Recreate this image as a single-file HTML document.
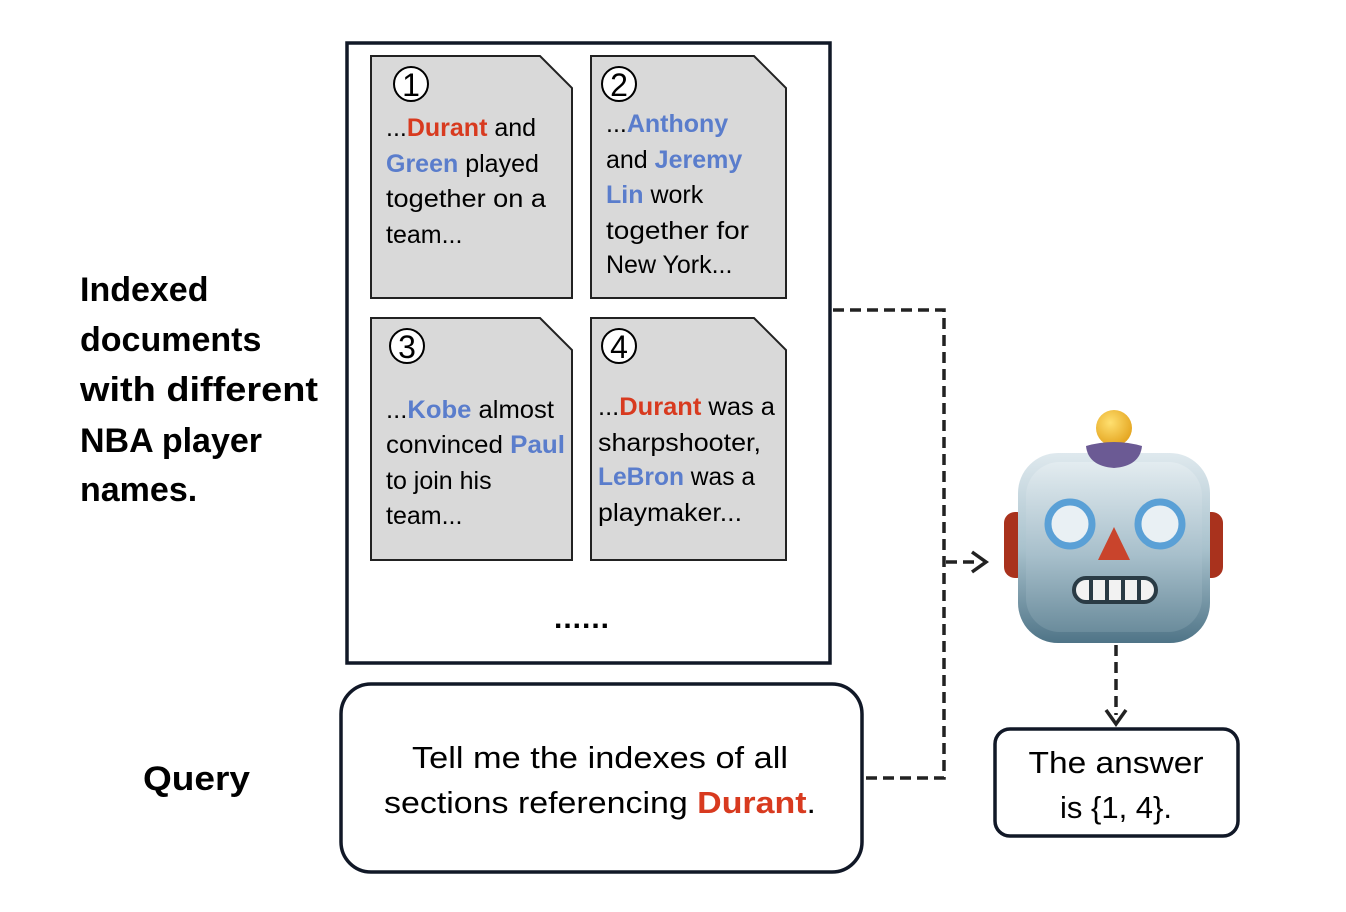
<!DOCTYPE html>
<html><head><meta charset="utf-8"><style>
html,body{margin:0;padding:0;background:#fff;}
svg{display:block;}
text{font-family:"Liberation Sans",sans-serif;}
.r{fill:#d83a1f;font-weight:bold;}
.b{fill:#5a7dcc;font-weight:bold;}
</style></head><body>
<svg width="1346" height="912" viewBox="0 0 1346 912" xmlns="http://www.w3.org/2000/svg">
<defs>
<linearGradient id="face" x1="0" y1="0" x2="0" y2="1">
<stop offset="0" stop-color="#dfe9ee"/><stop offset="0.5" stop-color="#a9c2cd"/><stop offset="1" stop-color="#4f7487"/>
</linearGradient>
<linearGradient id="inner" x1="0" y1="0" x2="0" y2="1">
<stop offset="0" stop-color="#e3ecf0"/><stop offset="0.55" stop-color="#a7bfcb"/><stop offset="1" stop-color="#6b8c9c"/>
</linearGradient>
<radialGradient id="ball" cx="0.4" cy="0.35" r="0.7"><stop offset="0" stop-color="#ffe070"/><stop offset="1" stop-color="#e3a21c"/></radialGradient>
</defs>

<g font-size="34" font-weight="bold" fill="#000">
<text x="80" y="301">Indexed</text>
<text x="80" y="351">documents</text>
<text x="80" y="401" textLength="238" lengthAdjust="spacingAndGlyphs">with different</text>
<text x="80" y="452">NBA player</text>
<text x="80" y="501">names.</text>
<text x="143" y="790" textLength="107" lengthAdjust="spacingAndGlyphs">Query</text>
</g>

<rect x="347" y="43" width="483" height="620" fill="#fff" stroke="#111827" stroke-width="3.5"/>

<g fill="#d9d9d9" stroke="#222" stroke-width="2">
<path d="M371 56 H540 L572 88 V298 H371 Z"/>
<path d="M591 56 H754 L786 88 V298 H591 Z"/>
<path d="M371 318 H540 L572 350 V560 H371 Z"/>
<path d="M591 318 H754 L786 350 V560 H591 Z"/>
</g>
<g fill="#fff" stroke="#000" stroke-width="2">
<circle cx="411" cy="84" r="17"/><circle cx="619" cy="84" r="17"/>
<circle cx="407" cy="346" r="17"/><circle cx="619" cy="346" r="17"/>
</g>
<g font-size="32" text-anchor="middle" fill="#000">
<text x="411" y="96">1</text><text x="619" y="96">2</text>
<text x="407" y="358">3</text><text x="619" y="358">4</text>
</g>

<g font-size="25" fill="#000">
<text x="386" y="136">...<tspan class="r">Durant</tspan> and</text>
<text x="386" y="172"><tspan class="b">Green</tspan> played</text>
<text x="386" y="207" textLength="160" lengthAdjust="spacingAndGlyphs">together on a</text>
<text x="386" y="243">team...</text>

<text x="606" y="132">...<tspan class="b">Anthony</tspan></text>
<text x="606" y="168">and <tspan class="b">Jeremy</tspan></text>
<text x="606" y="203"><tspan class="b">Lin</tspan> work</text>
<text x="606" y="239" textLength="143" lengthAdjust="spacingAndGlyphs">together for</text>
<text x="606" y="273">New York...</text>

<text x="386" y="418" textLength="168" lengthAdjust="spacingAndGlyphs">...<tspan class="b">Kobe</tspan> almost</text>
<text x="386" y="453" textLength="179" lengthAdjust="spacingAndGlyphs">convinced <tspan class="b">Paul</tspan></text>
<text x="386" y="489">to join his</text>
<text x="386" y="524">team...</text>

<text x="598" y="415" textLength="177" lengthAdjust="spacingAndGlyphs">...<tspan class="r">Durant</tspan> was a</text>
<text x="598" y="451" textLength="163" lengthAdjust="spacingAndGlyphs">sharpshooter,</text>
<text x="598" y="485" textLength="157" lengthAdjust="spacingAndGlyphs"><tspan class="b">LeBron</tspan> was a</text>
<text x="598" y="521" textLength="144" lengthAdjust="spacingAndGlyphs">playmaker...</text>
</g>
<text x="582" y="628" font-size="30" font-weight="bold" text-anchor="middle" letter-spacing="1">......</text>

<rect x="341" y="684" width="521" height="188" rx="30" fill="#fff" stroke="#111827" stroke-width="3.5"/>
<g font-size="31" text-anchor="middle" fill="#000">
<text x="600" y="768" textLength="376" lengthAdjust="spacingAndGlyphs">Tell me the indexes of all</text>
<text x="600" y="813" textLength="432" lengthAdjust="spacingAndGlyphs">sections referencing <tspan class="r">Durant</tspan>.</text>
</g>

<g fill="none" stroke="#222" stroke-width="3.5" stroke-dasharray="11 6">
<path d="M833 310 H944 V778 H863"/>
<path d="M946 562 H978"/>
<path d="M1116 645 V715"/>
</g>
<path d="M972 552 L986 562 L972 572" fill="none" stroke="#222" stroke-width="3.5"/>
<path d="M1106 710 L1116 724 L1126 710" fill="none" stroke="#222" stroke-width="3.5"/>

<g>
<rect x="1004" y="512" width="24" height="66" rx="11" fill="#a9321d"/>
<rect x="1199" y="512" width="24" height="66" rx="11" fill="#a9321d"/>
<rect x="1018" y="453" width="192" height="190" rx="40" fill="url(#face)"/>
<rect x="1026" y="462" width="176" height="170" rx="34" fill="url(#inner)"/>
<circle cx="1114" cy="428" r="18" fill="url(#ball)"/>
<path d="M1086 446 Q1114 438 1142 446 Q1140 466 1114 468 Q1088 466 1086 446 Z" fill="#6b5a94"/>
<circle cx="1070" cy="524" r="22" fill="#e9f0f4" stroke="#5aa0d6" stroke-width="7"/>
<circle cx="1160" cy="524" r="22" fill="#e9f0f4" stroke="#5aa0d6" stroke-width="7"/>
<path d="M1114 527 L1130 560 L1098 560 Z" fill="#c9442c"/>
<rect x="1074" y="578" width="82" height="24" rx="12" fill="#f2f2f2" stroke="#2a3b45" stroke-width="4"/>
<g stroke="#2a3b45" stroke-width="4"><line x1="1091" y1="579" x2="1091" y2="601"/><line x1="1107" y1="579" x2="1107" y2="601"/><line x1="1123" y1="579" x2="1123" y2="601"/><line x1="1139" y1="579" x2="1139" y2="601"/></g>
</g>

<rect x="995" y="729" width="243" height="107" rx="15" fill="#fff" stroke="#111827" stroke-width="3.5"/>
<g font-size="31" text-anchor="middle" fill="#000">
<text x="1116" y="773" textLength="175" lengthAdjust="spacingAndGlyphs">The answer</text>
<text x="1116" y="818">is {1, 4}.</text>
</g>
</svg>
</body></html>
